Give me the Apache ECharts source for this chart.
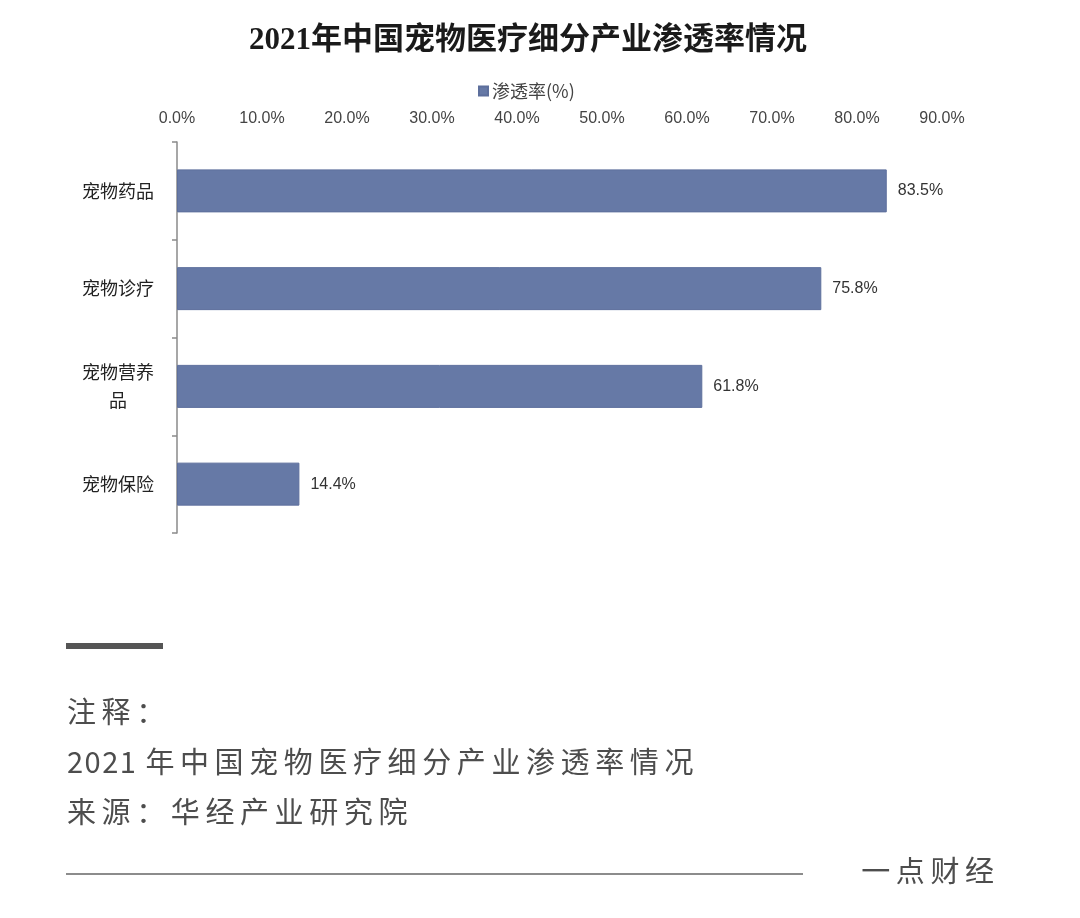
<!DOCTYPE html>
<html>
<head>
<meta charset="utf-8">
<script src="https://cdn.jsdelivr.net/npm/echarts@6/dist/echarts.min.js"></script>
<style>
html,body{margin:0;padding:0;background:#fff;}
#c{width:1080px;height:918px;}
</style>
</head>
<body>
<div id="c"></div>
<script>
const titleText = '2021年中国宠物医疗细分产业渗透率情况';
const seriesName = '渗透率(%)';
const categories = ['宠物药品', '宠物诊疗', '宠物营养\n品', '宠物保险'];
const values = [83.5, 75.8, 61.8, 14.4];
const noteLines = ['注释：', '2021 年中国宠物医疗细分产业渗透率情况', '来源：华经产业研究院'];
const brandText = '一点财经';

const CJK = '"Noto Sans CJK SC", "Noto Sans", sans-serif';
const measureCtx = document.createElement('canvas').getContext('2d');

function spacedText(str, x, y, size, spacing, color, alignRight) {
  measureCtx.font = size + 'px ' + CJK;
  const chars = Array.from(str);
  const widths = chars.map(ch => measureCtx.measureText(ch).width + (/[\x00-\x7f]/.test(ch) ? 1.5 : spacing));
  const total = widths.reduce((a, b) => a + b, 0) - spacing;
  let cx = alignRight ? x - total : x;
  const children = [];
  chars.forEach((ch, i) => {
    children.push({
      type: 'text', x: cx, y: y,
      style: { text: ch, font: size + 'px ' + CJK, fill: color, textAlign: 'left', textVerticalAlign: 'middle' }
    });
    cx += widths[i];
  });
  return { type: 'group', children: children };
}

const chart = echarts.init(document.getElementById('c'), null, { renderer: 'canvas' });
const graphics = [
  { type: 'rect', shape: { x: 66, y: 643, width: 97, height: 6 }, style: { fill: '#555' } },
  spacedText(noteLines[0], 67, 712, 29, 5.6, '#4d4d4d', false),
  spacedText(noteLines[1], 67, 762, 29, 5.6, '#4d4d4d', false),
  spacedText(noteLines[2], 67, 812, 29, 5.6, '#4d4d4d', false),
  { type: 'line', shape: { x1: 66, y1: 874, x2: 803, y2: 874 }, style: { stroke: '#666', lineWidth: 1.5 } },
  spacedText(brandText, 994, 871, 29, 5.6, '#4d4d4d', true)
];

chart.setOption({
  backgroundColor: '#fff',
  animation: false,
  title: {
    text: titleText,
    left: 523, textAlign: 'center', top: 20,
    textStyle: { fontSize: 31, fontWeight: 'bold', color: '#1a1a1a', fontFamily: '"Liberation Serif", "Noto Sans CJK SC", serif' }
  },
  legend: {
    top: 77, left: 473,
    data: [seriesName],
    icon: 'rect', itemWidth: 9, itemHeight: 9, itemGap: 4,
    textStyle: { fontSize: 18, color: '#444', fontFamily: CJK, padding: [0, 0, 0, -1] }
  },
  grid: { left: 177, right: 138, top: 142, height: 391, containLabel: false },
  xAxis: {
    type: 'value', position: 'top', min: 0, max: 90, interval: 10,
    axisLine: { show: false }, axisTick: { show: false }, splitLine: { show: false },
    axisLabel: {
      margin: 15, fontSize: 16, color: '#444', fontFamily: '"Liberation Sans", Arial, sans-serif',
      formatter: v => v.toFixed(1) + '%'
    }
  },
  yAxis: {
    type: 'category', inverse: true, data: categories,
    axisLine: { lineStyle: { color: '#8a8a8a', width: 1.5 } },
    axisTick: { show: true, length: 5, lineStyle: { color: '#8a8a8a', width: 1.5 } },
    axisLabel: { align: 'center', margin: 59, fontSize: 18, lineHeight: 28, color: '#222', fontFamily: CJK }
  },
  series: [{
    name: seriesName, type: 'bar', data: values, barWidth: 43,
    itemStyle: { color: '#6679a6', borderColor: '#5d6f9c', borderWidth: 1 },
    label: {
      show: true, position: 'right', distance: 11, fontSize: 16, color: '#333',
      fontFamily: '"Liberation Sans", Arial, sans-serif',
      formatter: p => p.value.toFixed(1) + '%'
    }
  }],
  graphic: graphics
});
</script>
</body>
</html>
